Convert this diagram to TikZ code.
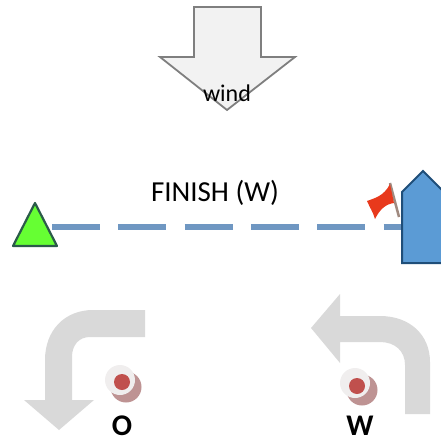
\documentclass[tikz,border=0pt]{standalone}
\usepackage{fontspec}
\setmainfont{Carlito}
\definecolor{windfill}{HTML}{F2F2F2}
\definecolor{windline}{HTML}{7F7F7F}
\definecolor{turngray}{HTML}{D9D9D9}
\definecolor{housefill}{HTML}{5B9BD5}
\definecolor{houseline}{HTML}{1F4E79}
\definecolor{greenfill}{HTML}{66FF33}
\definecolor{greenline}{HTML}{2B5A4A}
\definecolor{linecol}{HTML}{6F97C2}
\definecolor{buoyred}{HTML}{C0504D}
\definecolor{buoyshadow}{HTML}{BE9393}
\definecolor{buoywhite}{HTML}{F0EEEE}
\definecolor{flagred}{HTML}{E8391C}
\definecolor{poleg}{HTML}{A08A80}
\tikzset{
  turnarrow/.style={fill=turngray,draw=none},
  finishline/.style={draw=linecol,line width=5.5pt,dash pattern=on 48pt off 18.3pt},
  caption/.style={inner sep=0pt,text=black},
  marktext/.style={inner sep=0pt,font=\fontsize{30}{30}\selectfont\bfseries,text=black}
}
\begin{document}
\begin{tikzpicture}[x=1pt,y=-1pt]
\useasboundingbox (0,0) rectangle (440,441);
% wind arrow
\draw[fill=windfill,draw=windline,line width=1.8pt,line join=miter]
  (194,7) -- (261,7) -- (261,57) -- (295,57) -- (227,110) -- (160,57) -- (194,57) -- cycle;
\node[caption,font=\fontsize{24}{24}\selectfont,anchor=base] (wind) at (227,102) {wind};
% finish line
\coordinate (linestart) at (52,227);
\coordinate (lineend) at (402,227);
\draw[finishline] (linestart) -- (lineend);
\node[caption,font=\fontsize{29}{29}\selectfont,anchor=base] (finish) at (215,201) {FINISH (W)};
% pin end
\draw[fill=greenfill,draw=greenline,line width=2.2pt,line join=round]
  (35,203) -- (57,246) -- (13,246) -- cycle;
% flag
\draw[poleg,line width=2.5pt] (390,183) -- (399,217);
\fill[flagred] (367,201) .. controls (375,198) and (384,196) .. (390,184)
  -- (394,203) .. controls (386,204) and (380,209) .. (375,219)
  .. controls (373,212) and (370,208) .. (367,201) -- cycle;
% committee boat
\draw[fill=housefill,draw=houseline,line width=2pt,line join=miter]
  (444,192) -- (423,171) -- (402,192) -- (402,263) -- (444,263);
% left mark turn arrow
\fill[turnarrow] (145,310) -- (145,337) -- (90,337)
  .. controls (79,337) and (72,345) .. (72,357) -- (72,400) -- (94,400) -- (59,430) -- (24,400) -- (45,400) -- (45,360)
  .. controls (45,330) and (65,310) .. (93,310) -- cycle;
% right mark turn arrow
\fill[turnarrow] (311,328) -- (340,294) -- (340,316) -- (380,316)
  .. controls (410,316) and (430,335) .. (430,362) -- (430,414) -- (405,414) -- (405,365)
  .. controls (405,351) and (395,342) .. (380,342) -- (340,342) -- (340,363) -- cycle;
% buoys
\fill[buoyshadow] (126,387) circle[radius=15.5];
\fill[buoywhite] (120,380) circle[radius=15];
\fill[buoyred] (122,382) circle[radius=8];
\fill[buoyshadow] (362,390) circle[radius=15.5];
\fill[buoywhite] (355,383) circle[radius=15];
\fill[buoyred] (357,386) circle[radius=8];
\node[marktext,anchor=base] (markO) at (122,435) {O};
\node[marktext,anchor=base] (markW) at (360,435) {W};
\end{tikzpicture}
\end{document}
